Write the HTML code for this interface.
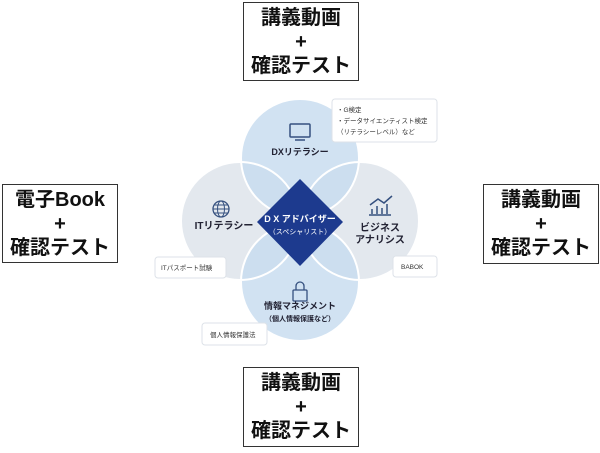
<!DOCTYPE html>
<html><head><meta charset="utf-8"><style>
html,body{margin:0;padding:0;background:#fff;width:600px;height:453px;overflow:hidden}
.box{position:absolute;border:1.5px solid #333;background:#fff;box-sizing:border-box;text-align:center;font-family:"Liberation Sans","Noto Sans CJK JP",sans-serif;font-weight:bold;font-size:20px;line-height:24px;color:#111;padding-top:3px}
svg{position:absolute;left:0;top:0}
svg text{font-family:"Liberation Sans","Noto Sans CJK JP",sans-serif}
</style></head><body>
<svg width="600" height="453" viewBox="0 0 600 453">
<circle cx="240" cy="221" r="59" fill="#e3e8ee"/>
<circle cx="360" cy="221" r="59" fill="#e3e8ee"/>
<circle cx="300" cy="158" r="59" fill="#c5dbef" fill-opacity="0.8"/>
<circle cx="300" cy="282" r="59" fill="#c5dbef" fill-opacity="0.8"/>
<g fill="none" stroke="#fff" stroke-width="2">
<circle cx="240" cy="221" r="59"/><circle cx="360" cy="221" r="59"/>
<circle cx="300" cy="158" r="59"/><circle cx="300" cy="282" r="59"/>
</g>
<polygon points="300,179 343,222 300,266 257,222" fill="#1d3a8e"/>
<text x="300" y="222" font-size="9" font-weight="bold" fill="#fff" text-anchor="middle">D X アドバイザー</text>
<text x="300" y="234" font-size="7" fill="#fff" text-anchor="middle">（スペシャリスト）</text>
<!-- monitor -->
<rect x="290" y="124" width="20" height="13" rx="1" fill="none" stroke="#35507f" stroke-width="1.5"/>
<line x1="295" y1="140" x2="305" y2="140" stroke="#35507f" stroke-width="1.5"/>
<text x="300" y="155" font-size="9" font-weight="bold" fill="#223" text-anchor="middle">DXリテラシー</text>
<!-- globe -->
<circle cx="221" cy="209" r="8" fill="none" stroke="#35507f" stroke-width="1.3"/>
<ellipse cx="221" cy="209" rx="3.5" ry="8" fill="none" stroke="#35507f" stroke-width="1"/>
<line x1="213" y1="209" x2="229" y2="209" stroke="#35507f"/>
<line x1="214" y1="205" x2="228" y2="205" stroke="#35507f"/>
<line x1="214" y1="213" x2="228" y2="213" stroke="#35507f"/>
<text x="224" y="229" font-size="10" font-weight="bold" fill="#223" text-anchor="middle">ITリテラシー</text>
<!-- chart -->
<g stroke="#35507f" stroke-width="1.5" fill="none">
<polyline points="370,205 378,199 384,203 392,196"/>
<line x1="372" y1="214" x2="372" y2="209"/><line x1="377" y1="214" x2="377" y2="206"/>
<line x1="382" y1="214" x2="382" y2="208"/><line x1="387" y1="214" x2="387" y2="204"/>
<line x1="369" y1="215" x2="391" y2="215"/>
</g>
<text x="380" y="231" font-size="10" font-weight="bold" fill="#223" text-anchor="middle">ビジネス</text>
<text x="380" y="243" font-size="10" font-weight="bold" fill="#223" text-anchor="middle">アナリシス</text>
<!-- lock -->
<path d="M296,290 v-4 a4,4 0 0 1 8,0 v4" fill="none" stroke="#35507f" stroke-width="1.3"/>
<rect x="293" y="290" width="14" height="11" rx="1" fill="none" stroke="#35507f" stroke-width="1.3"/>
<text x="300" y="309" font-size="9" font-weight="bold" fill="#223" text-anchor="middle">情報マネジメント</text>
<text x="300" y="321" font-size="7" font-weight="bold" fill="#223" text-anchor="middle">（個人情報保護など）</text>
<!-- label boxes -->
<g fill="#fff" stroke="#dde2e8">
<rect x="332" y="99" width="105" height="43" rx="3"/>
<rect x="155" y="257" width="71" height="21" rx="3"/>
<rect x="393" y="256" width="44" height="21" rx="3"/>
<rect x="202" y="323" width="65" height="22" rx="3"/>
</g>
<g font-size="6.5" fill="#333">
<text x="337" y="112">・G検定</text>
<text x="337" y="123">・データサイエンティスト検定</text>
<text x="337" y="134">（リテラシーレベル）など</text>
<text x="161" y="270">ITパスポート試験</text>
<text x="401" y="269">BABOK</text>
<text x="210" y="337">個人情報保護法</text>
</g>
</svg>
<div class="box" style="left:243px;top:2px;width:116px;height:79px">講義動画<br>+<br>確認テスト</div>
<div class="box" style="left:2px;top:184px;width:116px;height:79px">電子Book<br>+<br>確認テスト</div>
<div class="box" style="left:483px;top:184px;width:116px;height:80px">講義動画<br>+<br>確認テスト</div>
<div class="box" style="left:243px;top:367px;width:116px;height:80px">講義動画<br>+<br>確認テスト</div>
</body></html>
